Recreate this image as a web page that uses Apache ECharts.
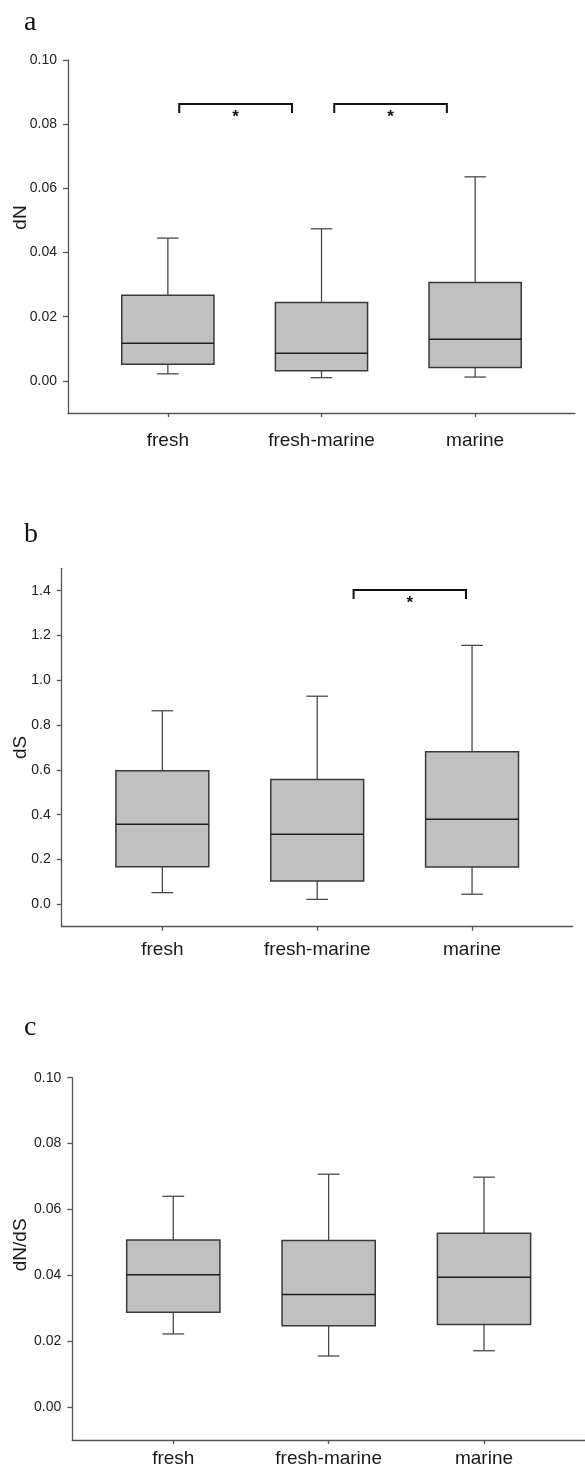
<!DOCTYPE html>
<html>
<head>
<meta charset="utf-8">
<script src="https://cdn.jsdelivr.net/npm/echarts@6/dist/echarts.min.js"></script>
<style>
html,body{margin:0;padding:0;background:#fff;}
#chart{width:585px;height:1472px;}
</style>
</head>
<body>
<div id="chart"></div>
<script>
// ---- data ----
const categories = ['fresh', 'fresh-marine', 'marine'];
// each row: [low whisker, Q1, median, Q3, high whisker]
const dN = [
  [0.0022, 0.0052, 0.0117, 0.0267, 0.0445],
  [0.0010, 0.0032, 0.0086, 0.0244, 0.0474],
  [0.0012, 0.0042, 0.0130, 0.0307, 0.0636]
];
const dS = [
  [0.052, 0.168, 0.357, 0.596, 0.864],
  [0.022, 0.104, 0.313, 0.557, 0.929],
  [0.045, 0.167, 0.380, 0.681, 1.156]
];
const dNdS = [
  [0.0222, 0.0288, 0.0402, 0.0507, 0.0640],
  [0.0155, 0.0247, 0.0342, 0.0506, 0.0707],
  [0.0171, 0.0251, 0.0394, 0.0528, 0.0698]
];
// significance brackets: [x start, x end (category units, 1-based), top value, leg end value]
const sigA = [[1.074, 1.808, 0.0863, 0.0835], [2.083, 2.816, 0.0863, 0.0835]];
const sigB = [[2.235, 2.961, 1.403, 1.363]];
const sigC = [];
const yTicksA = [0, 0.02, 0.04, 0.06, 0.08, 0.10];
const yTicksB = [0, 0.2, 0.4, 0.6, 0.8, 1.0, 1.2, 1.4];
const yTicksC = [0, 0.02, 0.04, 0.06, 0.08, 0.10];
const xTicks = [1, 2, 3];

// ---- rendering ----
const SANS = '"Liberation Sans", Arial, Helvetica, sans-serif';
const BOX_W = 0.6, CAP_W = 0.14;
const chart = echarts.init(document.getElementById('chart'), null, {renderer: 'canvas'});

function toBoxData(rows) {
  return rows.map((r, i) => [i + 1].concat(r));
}

function boxRender(params, api) {
  const x = api.value(0);
  const lo = api.coord([x, api.value(1)]);
  const q1 = api.coord([x, api.value(2)]);
  const md = api.coord([x, api.value(3)]);
  const q3 = api.coord([x, api.value(4)]);
  const hi = api.coord([x, api.value(5)]);
  const hw = api.size([BOX_W, 0])[0] / 2;
  const cw = api.size([CAP_W, 0])[0] / 2;
  const cx = lo[0];
  const wStyle = {stroke: '#4a4a4a', lineWidth: 1.3};
  return {
    type: 'group',
    children: [
      {type: 'line', shape: {x1: cx, y1: q3[1], x2: cx, y2: hi[1]}, style: wStyle},
      {type: 'line', shape: {x1: cx - cw, y1: hi[1], x2: cx + cw, y2: hi[1]}, style: wStyle},
      {type: 'line', shape: {x1: cx, y1: q1[1], x2: cx, y2: lo[1]}, style: wStyle},
      {type: 'line', shape: {x1: cx - cw, y1: lo[1], x2: cx + cw, y2: lo[1]}, style: wStyle},
      {type: 'rect', shape: {x: cx - hw, y: q3[1], width: 2 * hw, height: q1[1] - q3[1]},
        style: {fill: '#c0c0c0', stroke: '#3a3a3a', lineWidth: 1.5}},
      {type: 'line', shape: {x1: cx - hw, y1: md[1], x2: cx + hw, y2: md[1]},
        style: {stroke: '#1e1e1e', lineWidth: 1.5}}
    ]
  };
}

function sigRender(params, api) {
  const a = api.coord([api.value(0), api.value(2)]);
  const b = api.coord([api.value(1), api.value(2)]);
  const legA = api.coord([api.value(0), api.value(3)]);
  const st = {stroke: '#111', lineWidth: 2, fill: null};
  return {
    type: 'group',
    children: [
      {type: 'polyline', shape: {points: [[a[0], legA[1]], [a[0], a[1]], [b[0], b[1]], [b[0], legA[1]]]}, style: st},
      {type: 'text', style: {text: '*', x: (a[0] + b[0]) / 2, y: legA[1] + 4,
        align: 'center', verticalAlign: 'middle', fill: '#111', font: 'bold 17px ' + SANS}}
    ]
  };
}

function xAxisCfg(gridIndex, margin) {
  return {
    type: 'value', gridIndex, min: 0.35, max: 3.65,
    splitLine: {show: false},
    axisLine: {show: true, onZero: false, lineStyle: {color: '#555', width: 1.3}},
    axisTick: {show: true, customValues: xTicks, length: 4, lineStyle: {color: '#555', width: 1.3}},
    axisLabel: {customValues: xTicks, formatter: v => categories[Math.round(v) - 1] || '',
      fontSize: 19, fontFamily: SANS, color: '#1a1a1a', margin}
  };
}

function yAxisCfg(gridIndex, min, max, ticks, digits, name, nameGap, padLeft) {
  return {
    type: 'value', gridIndex, min, max,
    splitLine: {show: false},
    axisLine: {show: true, onZero: false, lineStyle: {color: '#555', width: 1.3}},
    axisTick: {show: true, customValues: ticks, length: 5, lineStyle: {color: '#555', width: 1.3}},
    axisLabel: {customValues: ticks, formatter: v => v.toFixed(digits),
      fontSize: 14, fontFamily: SANS, color: '#222', margin: 11},
    name, nameLocation: 'middle', nameGap, nameMoveOverlap: false,
    nameTextStyle: {fontSize: 19, fontFamily: SANS, color: '#1a1a1a', padding: [0, 0, 0, padLeft]}
  };
}

const letterStyle = {fontSize: 28, fontFamily: '"Liberation Serif", "Times New Roman", serif', fontWeight: 'normal', color: '#111'};

const option = {
  animation: false,
  backgroundColor: '#fff',
  title: [
    {text: 'a', left: 19, top: 4, textStyle: letterStyle},
    {text: 'b', left: 19, top: 516, textStyle: letterStyle},
    {text: 'c', left: 19, top: 1009, textStyle: letterStyle}
  ],
  grid: [
    {left: 68, top: 60, width: 507, height: 353},
    {left: 61.7, top: 568.3, width: 511, height: 358.4},
    {left: 72.3, top: 1077.7, width: 517, height: 362.3}
  ],
  xAxis: [xAxisCfg(0, 18), xAxisCfg(1, 14), xAxisCfg(2, 9)],
  yAxis: [
    yAxisCfg(0, -0.01, 0.10, yTicksA, 2, 'dN', 38, 38),
    yAxisCfg(1, -0.1, 1.5, yTicksB, 1, 'dS', 31, 0),
    yAxisCfg(2, -0.01, 0.10, yTicksC, 2, 'dN/dS', 42, 28)
  ],
  series: [
    {type: 'custom', name: 'dN', xAxisIndex: 0, yAxisIndex: 0, renderItem: boxRender, data: toBoxData(dN)},
    {type: 'custom', name: 'dS', xAxisIndex: 1, yAxisIndex: 1, renderItem: boxRender, data: toBoxData(dS)},
    {type: 'custom', name: 'dN/dS', xAxisIndex: 2, yAxisIndex: 2, renderItem: boxRender, data: toBoxData(dNdS)},
    {type: 'custom', name: 'sigA', xAxisIndex: 0, yAxisIndex: 0, renderItem: sigRender, data: sigA},
    {type: 'custom', name: 'sigB', xAxisIndex: 1, yAxisIndex: 1, renderItem: sigRender, data: sigB},
    {type: 'custom', name: 'sigC', xAxisIndex: 2, yAxisIndex: 2, renderItem: sigRender, data: sigC}
  ]
};
chart.setOption(option);
</script>
</body>
</html>
